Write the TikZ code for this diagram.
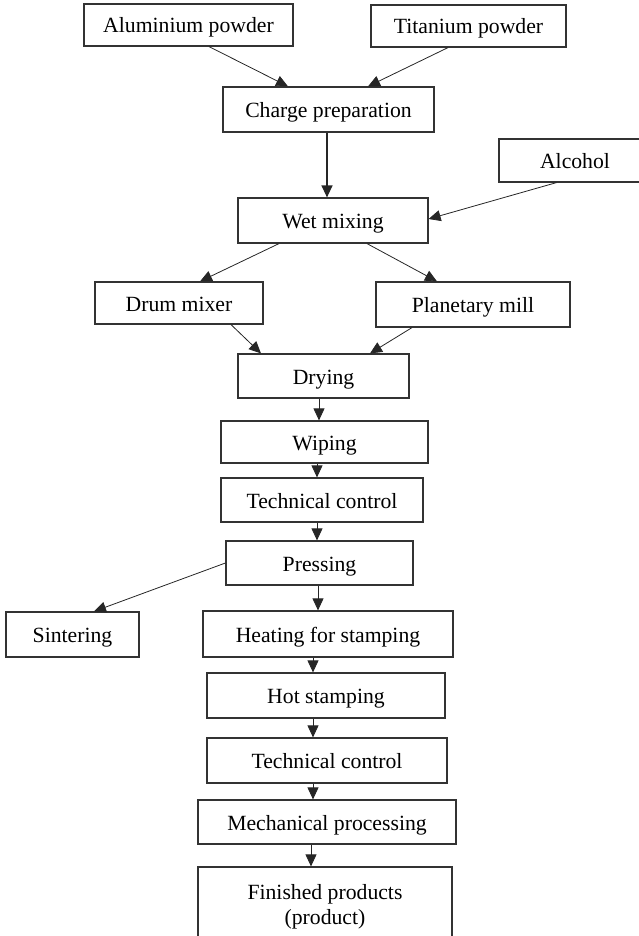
\documentclass[tikz,border=0pt]{standalone}
\usepackage{fontspec}
\setmainfont{Liberation Serif}
\usetikzlibrary{arrows.meta}

\begin{document}
\begin{tikzpicture}[
        x=1pt, y=-1pt,
        font=\fontsize{21.7}{25}\selectfont,
        stagebase/.style={draw=black!80, line width=1.2pt, inner sep=0pt},
        stage/.style={stagebase, minimum height=44pt, text height=16pt, text depth=0pt},
        flow/.style={-{Triangle[length=12pt,width=11pt]}, draw=black!85, line width=0.8pt}
    ]
        \useasboundingbox (0,0) rectangle (639,936);

        % Raw powders and charge.
        \node[stage, minimum width=209pt, minimum height=42pt] (aluminium) at (188.5,25) {Aluminium powder};
        \node[stage, minimum width=195pt, minimum height=42pt] (titanium) at (468.5,26) {Titanium powder};
        \node[stage, minimum width=211pt, minimum height=45pt] (charge) at (328.5,109.5) {Charge preparation};

        % Mixing.
        \node[stage, minimum width=152pt, minimum height=43pt] (alcohol) at (575,160.5) {Alcohol};
        \node[stage, minimum width=190pt, minimum height=45pt] (wetmix) at (333,220.5) {Wet mixing};
        \node[stage, minimum width=168pt, minimum height=42pt] (drum) at (179,303) {Drum mixer};
        \node[stage, minimum width=194pt, minimum height=45pt] (planetary) at (473,304.5) {Planetary mill};

        % Drying and pressing.
        \node[stage, minimum width=171pt, minimum height=44pt] (drying) at (323.5,376) {Drying};
        \node[stage, minimum width=207pt, minimum height=42pt] (wiping) at (324.5,442) {Wiping};
        \node[stage, minimum width=202pt, minimum height=44pt] (control1) at (322,500) {Technical control};
        \node[stage, minimum width=187pt, minimum height=44pt] (pressing) at (319.5,563) {Pressing};
        \node[stage, minimum width=133pt, minimum height=45pt] (sintering) at (72.5,634.5) {Sintering};

        % Stamping and finishing.
        \node[stage, minimum width=250pt, minimum height=46pt] (heating) at (328,634) {Heating for stamping};
        \node[stage, minimum width=238pt, minimum height=45pt] (hotstamp) at (326,695.5) {Hot stamping};
        \node[stage, minimum width=240pt, minimum height=45pt] (control2) at (327,760.5) {Technical control};
        \node[stage, minimum width=258pt, minimum height=44pt] (machining) at (327,822) {Mechanical processing};
        \node[stagebase, align=center, minimum width=254pt, minimum height=80pt] (finished) at (325,907) {Finished products\\(product)};

        % Charge and mixing.
        \draw[flow] ([xshift=20.5pt]aluminium.south) -- ([xshift=-40.5pt]charge.north);
        \draw[flow] ([xshift=-20.5pt]titanium.south) -- ([xshift=39.5pt]charge.north);
        \draw[flow, line width=1.3pt] ([xshift=-1.5pt]charge.south) -- ([xshift=-6pt]wetmix.north);
        \draw[flow] ([xshift=-18.5pt]alcohol.south) -- ([yshift=1.5pt]wetmix.east);
        \draw[flow] ([xshift=-54pt]wetmix.south) -- ([xshift=21pt]drum.north);
        \draw[flow] ([xshift=34pt]wetmix.south) -- ([xshift=-36pt]planetary.north);
        \draw[flow] ([xshift=52pt]drum.south) -- ([xshift=-62.5pt]drying.north);
        \draw[flow] ([xshift=-61pt]planetary.south) -- ([xshift=46.5pt]drying.north);

        % Main line.
        \draw[flow] ([xshift=-4.5pt]drying.south) -- ([xshift=-5.5pt]wiping.north);
        \draw[flow] ([xshift=-7.5pt]wiping.south) -- ([xshift=-5pt]control1.north);
        \draw[flow] ([xshift=-5pt]control1.south) -- ([xshift=-2.5pt]pressing.north);
        \draw[flow] (pressing.west) -- ([xshift=21.5pt]sintering.north);
        \draw[flow] ([xshift=-1.5pt]pressing.south) -- ([xshift=-10pt]heating.north);
        \draw[flow] ([xshift=-15pt]heating.south) -- ([xshift=-13pt]hotstamp.north);
        \draw[flow] ([xshift=-13pt]hotstamp.south) -- ([xshift=-14pt]control2.north);
        \draw[flow] ([xshift=-14pt]control2.south) -- ([xshift=-14pt]machining.north);
        \draw[flow] ([xshift=-16pt]machining.south) -- ([xshift=-14pt]finished.north);
    \end{tikzpicture}
\end{document}
